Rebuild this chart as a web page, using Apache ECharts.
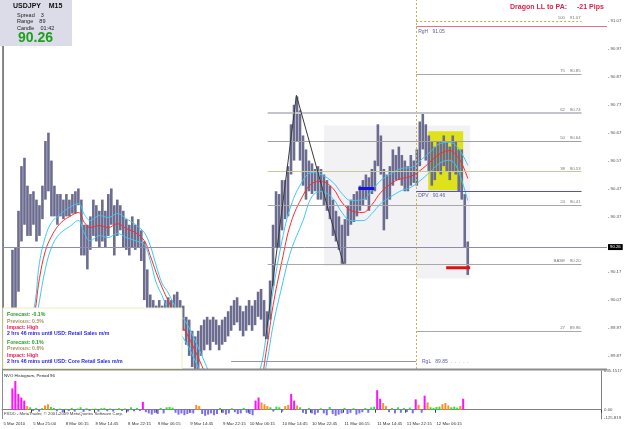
<!DOCTYPE html>
<html><head><meta charset="utf-8">
<script src="https://cdn.jsdelivr.net/npm/echarts@6/dist/echarts.min.js"></script>
<style>html,body{margin:0;padding:0;background:#fff}#c{width:625px;height:429px}</style>
</head><body><div id="c"></div>
<script>
// ---------- data ----------
const SLOTS = 202; // bar slots across the chart width
const timeLabels = ['5 Mar 2010','5 Mar 21:00','8 Mar 06:15','8 Mar 14:45','8 Mar 22:15','9 Mar 06:15','9 Mar 14:45','9 Mar 22:15','10 Mar 06:15','10 Mar 14:45','10 Mar 22:45','11 Mar 06:15','11 Mar 14:45','11 Mar 22:15','12 Mar 06:15'];
const timeLabelSlots = [0,10,21,31,42,52,63,74,83,94,104,115,126,136,146];
const priceTicks = [91.07,90.97,90.87,90.77,90.67,90.57,90.47,90.37,90.17,90.07,89.97,89.87];

const priceHigh = [null,null,null,
90.25,90.26,90.39,90.55,90.58,90.48,90.45,90.46,90.43,90.41,90.48,90.64,90.67,90.57,90.48,90.45,90.45,90.43,90.45,90.43,90.45,90.46,90.47,
90.43,90.34,90.34,90.37,90.43,90.41,90.39,90.43,90.39,90.45,90.47,90.41,90.43,90.41,90.39,90.36,90.34,90.37,90.34,90.36,90.32,90.28,
90.18,90.09,90.07,90.05,90.07,90.05,90.07,90.08,90.07,90.09,90.10,90.07,90.05,90.01,90.00,89.96,89.94,89.96,89.98,90.00,90.01,90.00,
90.01,90.00,89.98,90.00,90.01,90.03,90.05,90.07,90.08,90.05,90.03,90.05,90.07,90.05,90.07,90.10,90.11,90.07,90.03,90.14,90.34,90.46,
90.45,90.50,90.50,90.55,90.70,90.77,90.80,90.75,90.66,90.61,90.57,90.56,90.54,90.55,90.54,90.52,90.50,90.48,90.43,90.39,90.37,90.34,
90.36,90.41,90.43,90.45,90.46,90.48,90.50,90.52,90.51,90.54,90.57,90.70,90.66,90.54,90.52,90.55,90.61,90.59,90.62,90.59,90.57,90.55,
90.59,90.57,90.61,90.71,90.74,90.70,90.66,90.64,90.62,90.64,90.64,90.66,90.64,90.62,90.66,90.64,90.61,90.61,90.45,90.28];
const priceLow = [null,null,null,
90.03,90.00,90.10,90.28,90.34,90.30,90.30,90.34,90.28,90.30,90.36,90.43,90.46,90.37,90.37,90.34,90.37,90.36,90.37,90.37,90.38,90.38,90.41,
90.23,90.23,90.18,90.25,90.30,90.28,90.26,90.28,90.26,90.30,90.34,90.23,90.30,90.32,90.26,90.25,90.23,90.26,90.25,90.26,90.21,90.07,
90.00,89.96,89.94,89.92,89.94,89.94,89.96,89.98,89.98,90.00,90.00,89.98,89.96,89.91,89.87,89.83,89.81,89.82,89.87,89.89,89.91,89.89,
89.92,89.91,89.89,89.91,89.92,89.94,89.96,89.98,89.99,89.96,89.94,89.96,89.98,89.96,89.98,90.01,90.00,89.94,89.93,90.00,90.12,90.26,
90.26,90.32,90.36,90.37,90.52,90.57,90.64,90.57,90.48,90.43,90.46,90.45,90.46,90.43,90.43,90.41,90.39,90.36,90.30,90.28,90.25,90.20,
90.20,90.30,90.34,90.35,90.37,90.39,90.41,90.43,90.39,90.45,90.46,90.55,90.52,90.32,90.36,90.43,90.48,90.50,90.50,90.48,90.46,90.46,
90.48,90.49,90.48,90.55,90.61,90.57,90.53,90.48,90.50,90.53,90.52,90.55,90.53,90.50,90.53,90.52,90.46,90.43,90.26,90.16];

const maSlot  = [6,10,12,14,16,18,20,22,25,27,29,32,35,38,41,44,47,49,51,53,55,58,61,64,67,70,75,80,85,88,90,93,96,100,103,106,110,113,116,120,123,126,130,133,136,140,143,146,149,151,153,155];
const maUpper = [89.924,90.032,90.204,90.298,90.348,90.369,90.387,90.402,90.416,90.377,90.355,90.373,90.366,90.380,90.362,90.341,90.312,90.265,90.193,90.129,90.096,90.032,89.989,89.924,89.852,89.780,89.708,89.708,89.798,89.960,90.103,90.283,90.409,90.499,90.527,90.520,90.492,90.452,90.427,90.430,90.463,90.499,90.527,90.542,90.545,90.578,90.606,90.632,90.635,90.624,90.596,90.553];
const maMid   = [89.870,90.003,90.147,90.247,90.298,90.333,90.355,90.369,90.384,90.348,90.330,90.337,90.330,90.344,90.326,90.312,90.283,90.229,90.168,90.114,90.067,90.003,89.953,89.888,89.816,89.744,89.672,89.672,89.744,89.906,90.050,90.211,90.348,90.445,90.488,90.495,90.470,90.420,90.391,90.384,90.412,90.456,90.492,90.506,90.513,90.542,90.571,90.596,90.606,90.592,90.560,90.506];
const maLower = [89.816,89.942,90.067,90.183,90.258,90.298,90.319,90.333,90.355,90.309,90.283,90.301,90.294,90.309,90.294,90.283,90.269,90.211,90.132,90.085,90.032,89.967,89.917,89.852,89.780,89.708,89.636,89.636,89.708,89.852,89.978,90.121,90.247,90.355,90.441,90.459,90.434,90.384,90.355,90.355,90.380,90.416,90.445,90.463,90.474,90.506,90.535,90.563,90.571,90.553,90.499,90.427];

const zigSlot  = [87.5, 97.8, 113.5];
const zigPrice = [89.93, 90.804, 90.20];

const fibNames  = ['100','75','62','50','38','24','BASE','27'];
const fibValues = [91.07,90.88,90.74,90.64,90.53,90.41,90.20,89.96];
const fibTexts  = ['91.07','90.85','90.74','90.64','90.53','90.41','90.20','89.96'];

const rangeHigh = 91.05, rangeLow = 89.85, dpv = 90.46, lastPrice = 90.26;

const histValues = [0,0,0,
350,470,260,200,150,60,40,-20,30,-30,25,70,90,45,30,-25,20,-40,15,-20,30,-30,20,40,-35,25,-20,15,20,-30,25,30,-25,20,-30,15,25,-20,20,-30,40,-25,30,-20,
130,-40,-60,-80,-50,-70,30,-60,40,45,35,-50,-80,-60,-90,-70,-50,-60,80,60,-70,-100,-80,-60,-90,-70,30,-50,-80,-60,25,-40,-70,-60,30,-50,-70,-90,
150,200,120,90,60,40,-30,50,40,-30,60,80,260,150,70,40,-50,-70,30,-60,-80,-50,25,-60,-90,45,-70,-100,-80,-60,30,-70,-50,25,-80,-60,-40,30,-50,40,50,
320,180,110,60,-40,30,-60,40,-50,30,-40,35,-60,170,80,-50,230,120,40,30,45,50,90,110,70,40,50,35,60,180];
const histTicks = [635.1517, 0, -125.819];

// ---------- build ----------
const slotCats = Array.from({length: SLOTS}, (_, i) => {
  const k = timeLabelSlots.indexOf(i);
  return k >= 0 ? timeLabels[k] : '';
});
const priceData = [];
priceHigh.forEach((h, i) => { if (h != null) priceData.push([i, priceLow[i], h]); });
const maLine = arr => maSlot.map((s, i) => [s, arr[i]]);
const histColor = v => v < 0 ? '#7b6cf0' : (v >= 130 ? '#ff10ff' : (v >= 60 ? '#ff9020' : '#30e030'));

const FONT = 'Arial, "Liberation Sans", sans-serif';
const SMALL = 4.3;
const startSlot = 137.8, endSlot = 193, fibStart = 88.2;

const fibLine = (i, from, color, width, type) => [
  {coord: [from, fibValues[i]], lineStyle: {color, width, type},
   label: {show: true, position: 'insideEndTop', distance: 1, formatter: fibNames[i] + '    ' + fibTexts[i], color: '#777777', fontSize: SMALL, fontFamily: FONT}},
  {coord: [endSlot, fibValues[i]]}
];

const option = {
  animation: false,
  backgroundColor: '#ffffff',
  grid: [
    {left: 2, top: 0, width: 605, height: 369, show: false},
    {left: 2, top: 371, width: 605, height: 48, show: false}
  ],
  xAxis: [
    {type: 'category', gridIndex: 0, data: slotCats, show: false},
    {type: 'value', gridIndex: 0, min: -0.5, max: SLOTS - 0.5, show: false},
    {type: 'category', gridIndex: 1, data: slotCats, position: 'bottom',
     axisLine: {show: true, lineStyle: {color: '#808080'}},
     axisTick: {show: true, interval: (i, v) => v !== '', length: 3, lineStyle: {color: '#404040'}},
     axisLabel: {interval: (i, v) => v !== '', align: 'left', fontSize: SMALL, color: '#303030', margin: 3, fontFamily: FONT}}
  ],
  yAxis: [
    {type: 'value', gridIndex: 0, position: 'right', min: 89.823, max: 91.1455,
     axisLine: {show: true, lineStyle: {color: '#808080'}},
     axisTick: {show: false},
     axisLabel: {customValues: priceTicks, formatter: v => '- ' + v.toFixed(2), fontSize: SMALL, color: '#505050', margin: 1, fontFamily: FONT},
     splitLine: {show: false}},
    {type: 'value', gridIndex: 1, position: 'right', min: -152, max: 635.1517,
     axisLine: {show: true, lineStyle: {color: '#808080'}},
     axisTick: {show: false},
     axisLabel: {customValues: histTicks, formatter: v => v === 0 ? '0.00' : String(v), fontSize: SMALL, color: '#505050', margin: 3, fontFamily: FONT},
     splitLine: {show: false}}
  ],
  series: [
    // background zones and level lines
    {type: 'line', xAxisIndex: 1, yAxisIndex: 0, data: [], silent: true, z: 1,
     markArea: {silent: true, data: [
       [{coord: [107, 90.696], itemStyle: {color: 'rgba(205,205,215,0.25)'}}, {coord: [startSlot, 90.193]}],
       [{coord: [startSlot, 90.696], itemStyle: {color: 'rgba(205,205,215,0.25)'}}, {coord: [155.8, 90.147]}],
       [{coord: [141.8, 90.675], itemStyle: {color: '#dde21a'}}, {coord: [153.5, 90.463]}]
     ]},
     markLine: {silent: true, symbol: ['none', 'none'], data: [
       {xAxis: startSlot, lineStyle: {color: '#c8b448', type: [2, 2], width: 1}, label: {show: false}},
       {yAxis: lastPrice, lineStyle: {color: '#8c8cae', type: 'solid', width: 1},
        label: {show: true, position: 'end', formatter: lastPrice.toFixed(2), backgroundColor: '#000', color: '#fff', fontSize: SMALL, padding: [1, 2], distance: 1, fontFamily: FONT}},
       fibLine(0, startSlot, '#b8ac50', 1, [2, 2]),
       fibLine(1, startSlot, '#a8a8a8', 1, 'solid'),
       fibLine(2, fibStart, '#c4c4cc', 2, 'solid'),
       fibLine(3, fibStart, '#a0a0a0', 1, 'solid'),
       fibLine(4, fibStart, '#c8c89a', 1, 'solid'),
       fibLine(5, fibStart, '#a8a8a8', 1, 'solid'),
       fibLine(6, fibStart, '#a8a8a8', 1, 'solid'),
       fibLine(7, startSlot, '#a8a8a8', 1, 'solid'),
       [{coord: [startSlot, rangeHigh], lineStyle: {color: '#e07090', width: 1, type: 'solid'},
         label: {show: true, position: 'insideStartBottom', formatter: 'RgH   ' + rangeHigh.toFixed(2), color: '#6060a0', fontSize: 5, distance: 2, fontFamily: FONT}},
        {coord: [SLOTS - 0.5, rangeHigh]}],
       [{coord: [startSlot, dpv], lineStyle: {color: '#5050e0', width: 1, type: 'solid'},
         label: {show: true, position: 'insideStartBottom', formatter: 'DPV   ' + dpv.toFixed(2), color: '#6060a0', fontSize: 5, distance: 2, fontFamily: FONT}},
        {coord: [endSlot, dpv]}],
       [{coord: [76, rangeLow], lineStyle: {color: '#9090c0', width: 1, type: 'solid'},
         label: {show: false}},
        {coord: [startSlot, rangeLow]}]
     ]}},
    // price bars
    {type: 'custom', xAxisIndex: 0, yAxisIndex: 0, z: 3, clip: true, data: priceData,
     renderItem: (params, api) => {
       const top = api.coord([api.value(0), api.value(2)]);
       const bot = api.coord([api.value(0), api.value(1)]);
       return {type: 'rect', shape: {x: top[0] - 1.3, y: top[1], width: 2.6, height: Math.max(1, bot[1] - top[1])},
               style: {fill: '#6c6c90'}};
     }},
    // moving average envelope
    {type: 'line', xAxisIndex: 1, yAxisIndex: 0, data: maLine(maUpper), smooth: 0.4, showSymbol: false, z: 4, clip: true,
     lineStyle: {color: '#3cc8f4', width: 1}},
    {type: 'line', xAxisIndex: 1, yAxisIndex: 0, data: maLine(maMid), smooth: 0.4, showSymbol: false, z: 4, clip: true,
     lineStyle: {color: '#ff2a2a', width: 1}},
    {type: 'line', xAxisIndex: 1, yAxisIndex: 0, data: maLine(maLower), smooth: 0.4, showSymbol: false, z: 4, clip: true,
     lineStyle: {color: '#3cc8f4', width: 1}},
    // zigzag
    {type: 'line', xAxisIndex: 1, yAxisIndex: 0, data: zigSlot.map((s, i) => [s, zigPrice[i]]), showSymbol: false, z: 5,
     lineStyle: {color: '#3a3a3a', width: 1}},
    // pivot markers
    {type: 'line', xAxisIndex: 1, yAxisIndex: 0, data: [[118.5, 90.47], [123.8, 90.47]], showSymbol: false, z: 6,
     lineStyle: {color: '#1414e0', width: 3}},
    {type: 'line', xAxisIndex: 1, yAxisIndex: 0, data: [[147.8, 90.186], [155.8, 90.186]], showSymbol: false, z: 6,
     lineStyle: {color: '#e01010', width: 3}},
    // histogram
    {type: 'bar', xAxisIndex: 2, yAxisIndex: 1, barWidth: 2, z: 3,
     data: histValues.map(v => ({value: v, itemStyle: {color: histColor(v)}}))}
  ],
  graphic: [
    // frame lines
    {type: 'line', z: 90, shape: {x1: 2.5, y1: 46, x2: 2.5, y2: 419}, style: {stroke: '#8c8c8c', lineWidth: 1}},
    {type: 'line', z: 90, shape: {x1: 2, y1: 369.5, x2: 607, y2: 369.5}, style: {stroke: '#8c8c8c', lineWidth: 2}},
    // info panel
    {type: 'rect', z: 100, shape: {x: 0, y: 0, width: 72, height: 46}, style: {fill: '#dcdce8'}},
    {type: 'text', z: 101, x: 13, y: 6.5, style: {text: 'USDJPY    M15', font: 'bold 7px ' + FONT, fill: '#101010', verticalAlign: 'middle'}},
    {type: 'text', z: 101, x: 17, y: 15, style: {text: 'Spread    3', font: '5.5px ' + FONT, fill: '#202020', verticalAlign: 'middle'}},
    {type: 'text', z: 101, x: 17, y: 21.5, style: {text: 'Range    89', font: '5.5px ' + FONT, fill: '#202020', verticalAlign: 'middle'}},
    {type: 'text', z: 101, x: 17, y: 28, style: {text: 'Candle    01:42', font: '5.5px ' + FONT, fill: '#202020', verticalAlign: 'middle'}},
    {type: 'text', z: 101, x: 18, y: 38.5, style: {text: '90.26', font: 'bold 14px ' + FONT, fill: '#1ea01e', verticalAlign: 'middle'}},
    // header text
    {type: 'text', z: 101, x: 510, y: 7, style: {text: 'Dragon LL to PA:', font: 'bold 7px ' + FONT, fill: '#e0204a', verticalAlign: 'middle'}},
    {type: 'text', z: 101, x: 577, y: 7, style: {text: '-21 Pips', font: 'bold 7px ' + FONT, fill: '#e0204a', verticalAlign: 'middle'}},
    // news box
    {type: 'rect', z: 100, shape: {x: 3, y: 308, width: 179, height: 60.5}, style: {fill: '#ffffff', stroke: '#eeeebb', lineWidth: 1}},
    {type: 'text', z: 101, x: 7, y: 315, style: {text: 'Forecast: -0.1%', font: 'bold 5.2px ' + FONT, fill: '#22a022', verticalAlign: 'middle'}},
    {type: 'text', z: 101, x: 7, y: 321.5, style: {text: 'Previous: 0.5%', font: 'bold 5.2px ' + FONT, fill: '#a89060', verticalAlign: 'middle'}},
    {type: 'text', z: 101, x: 7, y: 327.5, style: {text: 'Impact: High', font: 'bold 5.2px ' + FONT, fill: '#e8205a', verticalAlign: 'middle'}},
    {type: 'text', z: 101, x: 7, y: 334, style: {text: '2 hrs 46 mins until USD: Retail Sales m/m', font: 'bold 5.2px ' + FONT, fill: '#2a2ae0', verticalAlign: 'middle'}},
    {type: 'text', z: 101, x: 7, y: 342.5, style: {text: 'Forecast: 0.1%', font: 'bold 5.2px ' + FONT, fill: '#22a022', verticalAlign: 'middle'}},
    {type: 'text', z: 101, x: 7, y: 349, style: {text: 'Previous: 0.6%', font: 'bold 5.2px ' + FONT, fill: '#a89060', verticalAlign: 'middle'}},
    {type: 'text', z: 101, x: 7, y: 355.5, style: {text: 'Impact: High', font: 'bold 5.2px ' + FONT, fill: '#e8205a', verticalAlign: 'middle'}},
    {type: 'text', z: 101, x: 7, y: 362, style: {text: '2 hrs 46 mins until USD: Core Retail Sales m/m', font: 'bold 5.2px ' + FONT, fill: '#2a2ae0', verticalAlign: 'middle'}},
    // range low label
    {type: 'text', z: 101, x: 422, y: 362, style: {text: 'RgL   89.85  .  .  .  .  .', font: '5px ' + FONT, fill: '#6060a0', verticalAlign: 'middle'}},
    // sub-window captions
    {type: 'text', z: 101, x: 4, y: 376, style: {text: 'NVO Histogram, Period 96', font: SMALL + 'px ' + FONT, fill: '#202020', verticalAlign: 'middle'}},
    {type: 'text', z: 101, x: 4, y: 414, style: {text: 'FXDD - MetaTrader, \u00a9 2001-2009 MetaQuotes Software Corp.', font: SMALL + 'px ' + FONT, fill: '#404040', verticalAlign: 'middle'}}
  ]
};

const chart = echarts.init(document.getElementById('c'));
chart.setOption(option);
</script>
</body></html>
